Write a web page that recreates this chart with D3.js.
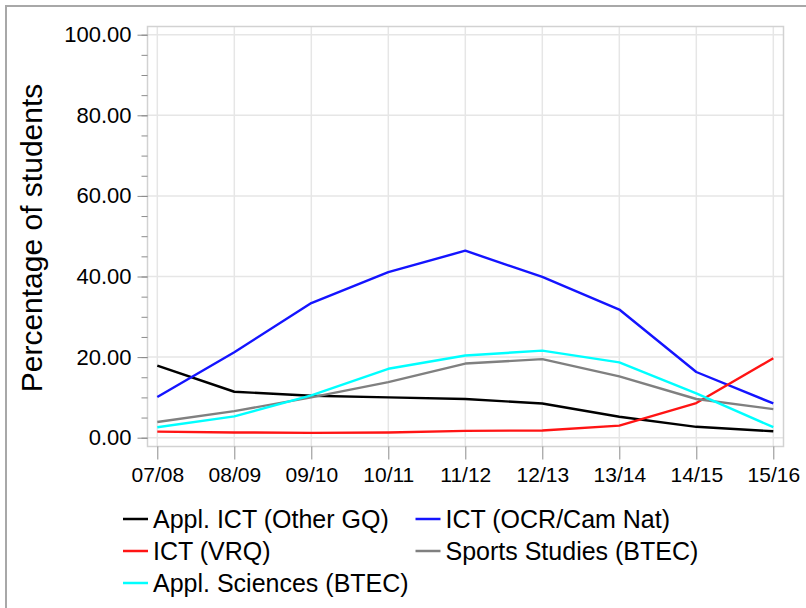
<!DOCTYPE html>
<html>
<head>
<meta charset="utf-8">
<script src="https://cdn.jsdelivr.net/npm/d3@7"></script>
<style>
  body { margin: 0; background: #fff; }
  svg { display: block; font-family: Arial, "Liberation Sans", sans-serif; }
</style>
</head>
<body>
<div id="chart"></div>
<script>
// school years on the x axis
var years = ["07/08", "08/09", "09/10", "10/11", "11/12", "12/13", "13/14", "14/15", "15/16"];

// percentage of students per qualification
var applIctOther = [17.9, 11.4, 10.4, 10.0, 9.6, 8.5, 5.2, 2.7, 1.6];
var ictOcr       = [10.1, 21.2, 33.4, 41.1, 46.4, 39.9, 31.8, 16.3, 8.5];
var ictVrq       = [1.5, 1.3, 1.2, 1.3, 1.7, 1.8, 3.0, 8.6, 19.7];
var sportsBtec   = [3.9, 6.6, 10.0, 13.8, 18.4, 19.5, 15.2, 9.6, 7.1];
var applSciBtec  = [2.6, 5.3, 10.5, 17.1, 20.4, 21.6, 18.7, 11.0, 2.6];

var seriesNames  = ["Appl. ICT (Other GQ)", "ICT (OCR/Cam Nat)", "ICT (VRQ)", "Sports Studies (BTEC)", "Appl. Sciences (BTEC)"];
var seriesColors = ["#000000", "#1414ff", "#ff1414", "#808080", "#00ffff"];

var yMajorTicks = [0, 20, 40, 60, 80, 100];
var yMinorTicks = d3.range(0, 101, 5);

var series = [applIctOther, ictOcr, ictVrq, sportsBtec, applSciBtec].map(function(vals, i) {
  return { name: seriesNames[i], color: seriesColors[i], values: vals };
});

var width = 806, height = 608;

var svg = d3.select("#chart").append("svg")
    .attr("width", width)
    .attr("height", height);

// outer panel border
svg.append("rect")
    .attr("x", 6).attr("y", 6)
    .attr("width", 820).attr("height", 640)
    .attr("fill", "none")
    .attr("stroke", "#a8a8a8")
    .attr("stroke-width", 2);

// plot frame
var frame = { left: 147.5, top: 26.5, right: 783.5, bottom: 446.5 };

var x = d3.scalePoint()
    .domain(years)
    .range([157.3, 773.3]);

var y = d3.scaleLinear()
    .domain([0, 100])
    .range([437.7, 34.7]);

// grid lines
var grid = svg.append("g");
grid.selectAll("line.h")
    .data(yMajorTicks)
  .enter().append("line")
    .attr("class", "h")
    .attr("x1", frame.left).attr("x2", frame.right)
    .attr("y1", function(d) { return y(d); })
    .attr("y2", function(d) { return y(d); })
    .attr("stroke", "#e6e6e6")
    .attr("stroke-width", 1.5);
grid.selectAll("line.v")
    .data(years)
  .enter().append("line")
    .attr("class", "v")
    .attr("y1", frame.top).attr("y2", frame.bottom)
    .attr("x1", function(d) { return x(d); })
    .attr("x2", function(d) { return x(d); })
    .attr("stroke", "#e6e6e6")
    .attr("stroke-width", 1.5);

svg.append("rect")
    .attr("x", frame.left).attr("y", frame.top)
    .attr("width", frame.right - frame.left)
    .attr("height", frame.bottom - frame.top)
    .attr("fill", "none")
    .attr("stroke", "#d2d2d2")
    .attr("stroke-width", 1.5);

// y axis: minor ticks, then major ticks with labels
var yMinor = svg.append("g")
    .attr("transform", "translate(" + frame.left + ",0)")
    .call(d3.axisLeft(y).tickValues(yMinorTicks).tickSize(6).tickFormat(""));
yMinor.select(".domain").remove();
yMinor.selectAll("line").attr("stroke", "#8c8c8c");

var yAxis = svg.append("g")
    .attr("transform", "translate(" + frame.left + ",0)")
    .call(d3.axisLeft(y).tickValues(yMajorTicks).tickSize(10).tickPadding(6).tickFormat(d3.format(".2f")));
yAxis.select(".domain").remove();
yAxis.selectAll("line").attr("stroke", "#8c8c8c");
yAxis.selectAll("text")
    .attr("fill", "#000")
    .style("font-size", "22px")
    .style("font-family", "Arial, 'Liberation Sans', sans-serif");

// x axis
var xAxis = svg.append("g")
    .attr("transform", "translate(0," + frame.bottom + ")")
    .call(d3.axisBottom(x).tickSize(13).tickPadding(8));
xAxis.select(".domain").remove();
xAxis.selectAll("line").attr("stroke", "#8c8c8c");
xAxis.selectAll("text")
    .attr("fill", "#000")
    .style("font-size", "21px")
    .style("font-family", "Arial, 'Liberation Sans', sans-serif");

// y axis title
svg.append("text")
    .attr("transform", "translate(42,238) rotate(-90)")
    .attr("text-anchor", "middle")
    .style("font-size", "30px")
    .text("Percentage of students");

// lines
var line = d3.line()
    .x(function(d, i) { return x(years[i]); })
    .y(function(d) { return y(d); });

svg.append("g").selectAll("path")
    .data(series)
  .enter().append("path")
    .attr("d", function(d) { return line(d.values); })
    .attr("fill", "none")
    .attr("stroke", function(d) { return d.color; })
    .attr("stroke-width", 2.4)
    .attr("stroke-linejoin", "round");

// legend, two columns
var legendCols = [123, 415.5];
var legendRows = [519, 551, 583];

var legend = svg.append("g").selectAll("g")
    .data(series)
  .enter().append("g")
    .attr("transform", function(d, i) {
      return "translate(" + legendCols[i % 2] + "," + legendRows[Math.floor(i / 2)] + ")";
    });
legend.append("line")
    .attr("x1", 0).attr("x2", 25)
    .attr("stroke", function(d) { return d.color; })
    .attr("stroke-width", 2.5);
legend.append("text")
    .attr("x", 30)
    .attr("dy", "0.35em")
    .style("font-size", "25px")
    .text(function(d) { return d.name; });
</script>
</body>
</html>
